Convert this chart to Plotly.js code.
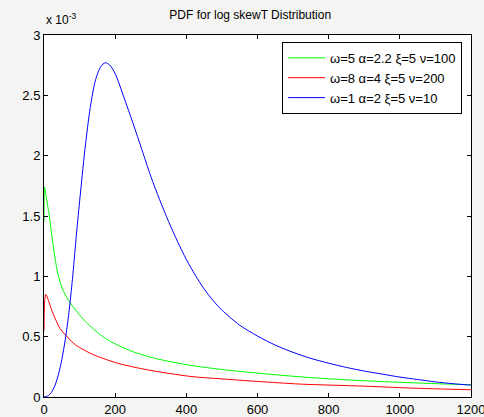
<!DOCTYPE html>
<html>
<head>
<meta charset="utf-8">
<script src="https://cdn.plot.ly/plotly-3.0.1.min.js"></script>
<style>html,body{margin:0;padding:0;background:#f4f4f2;}</style>
</head>
<body>
<div id="chart" style="width:484px;height:417px;"></div>
<script>
// values in units of 1e-3
const blueX = [0,10,20,30,40,50,60,70,80,90,100,115,130,145,160,172,185,200,225,250,275,300,325,350,375,400,425,450,475,500,550,600,650,700,750,800,850,900,950,1000,1050,1100,1150,1200];
const blueY = [0,0.008,0.035,0.09,0.18,0.31,0.48,0.70,0.98,1.31,1.62,2.05,2.40,2.63,2.74,2.77,2.75,2.68,2.48,2.27,2.05,1.83,1.635,1.455,1.29,1.14,1.01,0.895,0.80,0.72,0.595,0.505,0.43,0.37,0.32,0.28,0.245,0.215,0.19,0.165,0.145,0.125,0.11,0.098];

const greenX = [0,1.5,5,10,15,20,25,30,35,40,50,60,80,100,122,150,175,200,225,260,310,360,422,500,600,721,824,956,1125,1200];
const greenY = [1.45,1.74,1.68,1.59,1.50,1.38,1.27,1.17,1.08,1.01,0.91,0.845,0.755,0.68,0.61,0.535,0.482,0.44,0.405,0.365,0.322,0.29,0.258,0.228,0.198,0.167,0.147,0.127,0.108,0.102];

const redX = [0,2,5,10,23.5,45,60,89,141,207,291,413,500,600,721,899,1031,1200];
const redY = [0.55,0.80,0.85,0.82,0.706,0.568,0.515,0.431,0.348,0.28,0.225,0.17,0.15,0.129,0.107,0.09,0.074,0.06];

const names = ["ω=5 α=2.2 ξ=5 ν=100", "ω=8 α=4 ξ=5 ν=200", "ω=1 α=2 ξ=5 ν=10"];
const xTicks = [0,200,400,600,800,1000,1200];
const yTicks = [0,0.5,1,1.5,2,2.5,3];

const font = {family: "Liberation Sans, Arial, sans-serif", size: 13, color: "#000"};

const traces = [
  {x: greenX, y: greenY, name: names[0], mode: "lines", line: {color: "#00ff00", width: 1, shape: "spline", smoothing: 0.8}},
  {x: redX, y: redY, name: names[1], mode: "lines", line: {color: "#ff0000", width: 1, shape: "spline", smoothing: 0.8}},
  {x: blueX, y: blueY, name: names[2], mode: "lines", line: {color: "#0000ff", width: 1, shape: "spline", smoothing: 0.8}}
];

const axisCommon = {
  showgrid: false, zeroline: false, showline: true, linecolor: "#000", linewidth: 1,
  mirror: "ticks", ticks: "inside", ticklen: 4, tickcolor: "#000", tickfont: font,
  ticklabeloverflow: "allow"
};

const layout = {
  width: 484, height: 417,
  margin: {l: 44, r: 13, t: 35, b: 20},
  paper_bgcolor: "#f4f4f2", plot_bgcolor: "#ffffff",
  font: font,
  title: {text: "PDF for log skewT Distribution", font: {family: font.family, size: 12, color: "#000"}, x: 0.517, xanchor: "center", y: 0.965, yanchor: "middle"},
  xaxis: Object.assign({}, axisCommon, {range: [0, 1200], tickvals: xTicks}),
  yaxis: Object.assign({}, axisCommon, {range: [0, 3], tickvals: yTicks}),
  showlegend: true,
  legend: {x: 0.979, y: 0.981, xanchor: "right", yanchor: "top", bgcolor: "#fff", bordercolor: "#000", borderwidth: 1,
           font: {family: font.family, size: 13, color: "#000"}, itemwidth: 37, tracegroupgap: 0},
  annotations: [{xref: "paper", yref: "paper", x: 0, y: 1, xanchor: "left", yanchor: "bottom", yshift: 6, showarrow: false,
                 text: "x 10<sup>-3</sup>", font: {family: font.family, size: 12, color: "#000"}}]
};

Plotly.newPlot("chart", traces, layout, {displayModeBar: false, staticPlot: true});
</script>
</body>
</html>
